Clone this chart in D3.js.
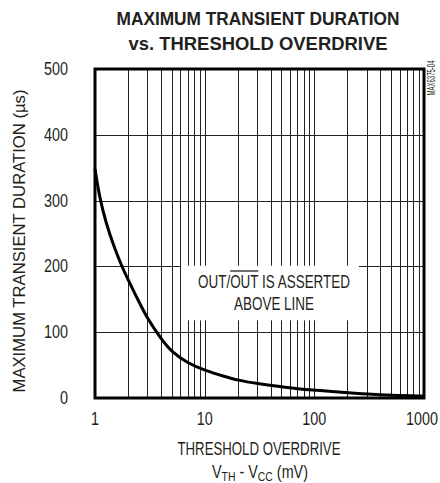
<!DOCTYPE html>
<html lang="en">
<head>
    <meta charset="UTF-8">
    <title>Maximum Transient Duration vs Threshold Overdrive</title>
    <script src="https://d3js.org/d3.v7.min.js"></script>
    <style>
        body {
            margin: 0;
            background: #fff;
        }

        svg text {
            font-family: "Liberation Sans", Arial, sans-serif;
            fill: #231f20;
        }

        .title {
            font-weight: bold;
            font-size: 18px;
        }
    </style>
</head>
<body>
    <svg id="chart" width="440" height="483"></svg>
    <script>
        // curve (mV, us)
        let overdrive = [1, 1.1, 1.25, 1.5, 1.8, 2, 2.5, 3, 4, 5, 7, 10, 15, 20, 30, 50, 70, 100, 200, 300, 500, 1000]
        let duration = [348, 305, 268, 228, 196, 180, 147, 121, 90, 70, 53, 42, 33, 27, 22, 17, 14, 12, 8, 6, 4, 3]

        let yTicks = [0, 100, 200, 300, 400, 500]
        let xTicks = [1, 10, 100, 1000]
        let titleLines = ["MAXIMUM TRANSIENT DURATION", "vs. THRESHOLD OVERDRIVE"]
        let noteLines = ["OUT/OUT IS ASSERTED", "ABOVE LINE"]

        let svg = d3.select("#chart")
        let pLeft = 95, pRight = 424, pTop = 69, pBottom = 398

        let x = d3.scaleLog().domain([1, 1000]).range([pLeft, pRight])
        let y = d3.scaleLinear().domain([0, 500]).range([pBottom, pTop])

        // squeeze text to look like a condensed face
        function narrow(sel, width) {
            sel.each(function () {
                let w = width || this.getComputedTextLength() * 0.8
                d3.select(this).attr("textLength", w).attr("lengthAdjust", "spacingAndGlyphs")
            })
        }

        // title
        svg.selectAll(".title")
            .data(titleLines)
            .enter()
            .append("text")
            .attr("class", "title")
            .attr("x", 258)
            .attr("y", (d, i) => 25 + i * 25)
            .attr("text-anchor", "middle")
            .attr("textLength", (d, i) => i == 0 ? 283 : 259)
            .attr("lengthAdjust", "spacingAndGlyphs")
            .text(d => d)

        // grid
        let grid = svg.append("g").attr("stroke", "#222").attr("stroke-width", 1)
        let vLines = []
        for (let dec = 1; dec < 1000; dec *= 10) {
            for (let k = 1; k <= 9; k++) {
                if (dec * k > 1) vLines.push(dec * k)
            }
        }
        grid.selectAll(".v")
            .data(vLines)
            .enter()
            .append("line")
            .attr("x1", d => Math.round(x(d)) + 0.5)
            .attr("x2", d => Math.round(x(d)) + 0.5)
            .attr("y1", pTop)
            .attr("y2", pBottom)
        grid.selectAll(".h")
            .data(yTicks.slice(1, -1))
            .enter()
            .append("line")
            .attr("x1", pLeft)
            .attr("x2", pRight)
            .attr("y1", d => Math.round(y(d)) + 0.5)
            .attr("y2", d => Math.round(y(d)) + 0.5)

        // white box behind the note
        svg.append("rect")
            .attr("x", x(6.1))
            .attr("y", y(201))
            .attr("width", x(255) - x(6.1))
            .attr("height", y(118) - y(201))
            .attr("fill", "#fff")

        let note = svg.append("text")
            .attr("x", 274)
            .attr("y", 288)
            .attr("text-anchor", "middle")
            .style("font-size", "18px")
            .text(noteLines[0])
        narrow(note, 152)
        narrow(svg.append("text")
            .attr("x", 274)
            .attr("y", 310)
            .attr("text-anchor", "middle")
            .style("font-size", "18px")
            .text(noteLines[1]), 80)
        // overbar over the second OUT
        let nn = note.node()
        let ext = nn.getExtentOfChar(4), ext2 = nn.getExtentOfChar(6)
        svg.append("line")
            .attr("x1", ext.x)
            .attr("x2", ext2.x + ext2.width)
            .attr("y1", 271)
            .attr("y2", 271)
            .attr("stroke", "#231f20")
            .attr("stroke-width", 1.3)

        // curve
        let line = d3.line()
            .x((d, i) => x(overdrive[i]))
            .y(d => y(d))
            .curve(d3.curveBasis)
        svg.append("path")
            .attr("d", line(duration))
            .attr("fill", "none")
            .attr("stroke", "#000")
            .attr("stroke-width", 3)

        // frame
        svg.append("rect")
            .attr("x", pLeft)
            .attr("y", pTop)
            .attr("width", pRight - pLeft)
            .attr("height", pBottom - pTop)
            .attr("fill", "none")
            .attr("stroke", "#000")
            .attr("stroke-width", 3)

        // tick labels
        narrow(svg.selectAll(".ytick")
            .data(yTicks)
            .enter()
            .append("text")
            .attr("x", 68)
            .attr("y", d => y(d) + 6)
            .attr("text-anchor", "end")
            .style("font-size", "18px")
            .text(d => d))
        svg.selectAll(".xtick")
            .data(xTicks)
            .enter()
            .append("g")
            .attr("transform", d => `translate(${d == 1000 ? x(d) - 2 : x(d)},425) scale(0.8,1)`)
            .append("text")
            .attr("text-anchor", "middle")
            .style("font-size", "18px")
            .text(d => d)

        // axis titles
        narrow(svg.append("text")
            .attr("x", 259)
            .attr("y", 455)
            .attr("text-anchor", "middle")
            .style("font-size", "18px")
            .text("THRESHOLD OVERDRIVE"), 163)
        let sub = svg.append("g")
            .attr("transform", "translate(260,478) scale(0.8,1)")
            .append("text")
            .attr("text-anchor", "middle")
            .style("font-size", "18px")
        sub.append("tspan").text("V")
        sub.append("tspan").attr("dy", 3).style("font-size", "13px").text("TH")
        sub.append("tspan").attr("dy", -3).text(" - V")
        sub.append("tspan").attr("dy", 3).style("font-size", "13px").text("CC")
        sub.append("tspan").attr("dy", -3).text(" (mV)")

        narrow(svg.append("text")
            .attr("transform", "translate(25,241) rotate(-90)")
            .attr("text-anchor", "middle")
            .style("font-size", "17px")
            .text("MAXIMUM TRANSIENT DURATION (\u00b5s)"), 303)

        narrow(svg.append("text")
            .attr("transform", "translate(435,78) rotate(-90)")
            .attr("text-anchor", "middle")
            .style("font-size", "10px")
            .text("MAX6375-04"), 35)
    </script>
</body>
</html>
